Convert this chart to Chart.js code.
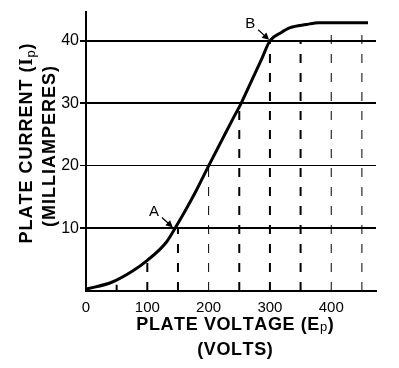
<!DOCTYPE html>
<html>
<head>
<meta charset="utf-8">
<script src="https://cdn.jsdelivr.net/npm/chart.js@4/dist/chart.umd.min.js"></script>
<style>
  html, body { margin: 0; padding: 0; background: #fff; }
</style>
</head>
<body>
<canvas id="chart" width="399" height="368"></canvas>
<script>
// tick labels
const xTicks = [0, 100, 200, 300, 400];
const yTicks = [10, 20, 30, 40];

// plate characteristic curve (volts, mA)
const curveVolts = [0, 42, 76, 100, 131, 145, 160, 179, 200, 221, 240, 253, 270, 287, 300, 318, 333, 359, 380, 460];
const curveMa    = [0.3, 1.4, 3.2, 4.9, 7.8, 10, 12.5, 15.9, 20, 24.0, 27.6, 30, 33.6, 37.2, 40, 41.3, 42.1, 42.6, 42.9, 42.9];

// vertical drop lines (volts, top in mA)
const dropVolts = [50, 100, 150, 200, 250, 300, 350, 400, 450];
const dropTop   = [1, 5, 10, 20, 29.5, 40, 40, 42, 42];

// marked points on the curve
const markLabels = ['A', 'B'];
const markVolts  = [145, 302];
const markMa     = [10, 40];

const FONT = "'Liberation Sans', Arial, sans-serif";
const thinDrops = [200, 400, 450];

const datasets = [{
  data: curveVolts.map((v, i) => ({ x: v, y: curveMa[i] })),
  borderColor: '#000',
  borderWidth: 3,
  pointRadius: 0,
  cubicInterpolationMode: 'monotone',
  fill: false
}];

dropVolts.forEach((v, i) => {
  const thin = thinDrops.includes(v);
  datasets.push({
    data: [{ x: v, y: 0 }, { x: v, y: dropTop[i] }],
    borderColor: '#000',
    borderWidth: thin ? 1 : 2,
    borderDash: v === 50 ? [] : [9, 10],
    pointRadius: 0,
    fill: false
  });
});

// draws text pieces (mixed fonts) centred on cx, with extra letter spacing
function drawPieces(ctx, pieces, cx, baseY, spacing) {
  const chars = [];
  pieces.forEach(p => {
    for (const ch of p.text) chars.push({ ch, font: p.font, dy: p.dy || 0 });
  });
  let w = 0;
  chars.forEach(c => { ctx.font = c.font; c.w = ctx.measureText(c.ch).width; w += c.w; });
  w += spacing * (chars.length - 1);
  let x = cx - w / 2;
  chars.forEach(c => {
    ctx.font = c.font;
    ctx.fillText(c.ch, x, baseY + c.dy);
    x += c.w + spacing;
  });
}

const BIG = `bold 18px ${FONT}`;
const SUB = `13px ${FONT}`;

const annotations = {
  id: 'annotations',
  afterDraw(chart) {
    const { ctx, chartArea: a, scales: { x, y } } = chart;
    ctx.save();
    ctx.fillStyle = '#000';
    ctx.strokeStyle = '#000';
    ctx.textBaseline = 'alphabetic';
    ctx.textAlign = 'left';

    // x axis title
    const cx = (a.left + a.right) / 2 + 4;
    drawPieces(ctx, [
      { text: 'PLATE VOLTAGE (E', font: BIG },
      { text: 'p', font: SUB, dy: 1 },
      { text: ')', font: BIG }
    ], cx, 330, 0.6);
    drawPieces(ctx, [{ text: '(VOLTS)', font: BIG }], cx, 355, 0.6);

    // y axis title
    const cy = (a.top + a.bottom) / 2 - 8;
    ctx.save();
    ctx.translate(32, cy);
    ctx.rotate(-Math.PI / 2);
    drawPieces(ctx, [
      { text: 'PLATE CURRENT (', font: BIG },
      { text: 'I', font: `bold 18px 'Liberation Serif', serif` },
      { text: 'p', font: SUB, dy: 3 },
      { text: ')', font: BIG }
    ], 0, 0, 1);
    ctx.restore();
    ctx.save();
    ctx.translate(55, cy + 3);
    ctx.rotate(-Math.PI / 2);
    drawPieces(ctx, [{ text: '(MILLIAMPERES)', font: BIG }], 0, 0, 1);
    ctx.restore();

    // A / B markers with arrows
    markLabels.forEach((lab, i) => {
      const px = x.getPixelForValue(markVolts[i]);
      const py = y.getPixelForValue(markMa[i]);
      ctx.font = `15px ${FONT}`;
      ctx.textAlign = 'center';
      ctx.textBaseline = 'middle';
      ctx.fillText(lab, px - 21, py - 17);
      const x0 = px - 13, y0 = py - 11, x1 = px - 2, y1 = py - 1;
      const ang = Math.atan2(y1 - y0, x1 - x0);
      ctx.lineWidth = 1.2;
      ctx.beginPath();
      ctx.moveTo(x0, y0);
      ctx.lineTo(x1 - 4 * Math.cos(ang), y1 - 4 * Math.sin(ang));
      ctx.stroke();
      ctx.beginPath();
      ctx.moveTo(x1, y1);
      ctx.lineTo(x1 - 7 * Math.cos(ang) + 3.5 * Math.sin(ang), y1 - 7 * Math.sin(ang) - 3.5 * Math.cos(ang));
      ctx.lineTo(x1 - 7 * Math.cos(ang) - 3.5 * Math.sin(ang), y1 - 7 * Math.sin(ang) + 3.5 * Math.cos(ang));
      ctx.closePath();
      ctx.fill();
    });
    ctx.restore();
  }
};

new Chart(document.getElementById('chart'), {
  type: 'line',
  data: { datasets },
  options: {
    responsive: false,
    animation: false,
    devicePixelRatio: 1,
    layout: { padding: { top: 12, right: 23, left: 0, bottom: 0 } },
    plugins: { legend: { display: false }, tooltip: { enabled: false } },
    scales: {
      x: {
        type: 'linear',
        min: 0,
        max: 473,
        afterBuildTicks: s => { s.ticks = xTicks.map(v => ({ value: v })); },
        afterFit: s => { s.height = 77; },
        grid: { display: false },
        border: { color: '#000', width: 2 },
        ticks: { font: { family: FONT, size: 15 }, color: '#000', padding: 0, maxRotation: 0, autoSkip: false }
      },
      y: {
        type: 'linear',
        min: 0,
        max: 44.6,
        afterBuildTicks: s => { s.ticks = yTicks.map(v => ({ value: v })); },
        afterFit: s => { s.width = 86; },
        grid: {
          color: '#000',
          lineWidth: c => (c.tick && c.tick.value === 20 ? 1 : 2),
          tickLength: 6
        },
        border: { color: '#000', width: 2 },
        ticks: { font: { family: FONT, size: 16 }, color: '#000', padding: 1 }
      }
    }
  },
  plugins: [annotations]
});
</script>
</body>
</html>
